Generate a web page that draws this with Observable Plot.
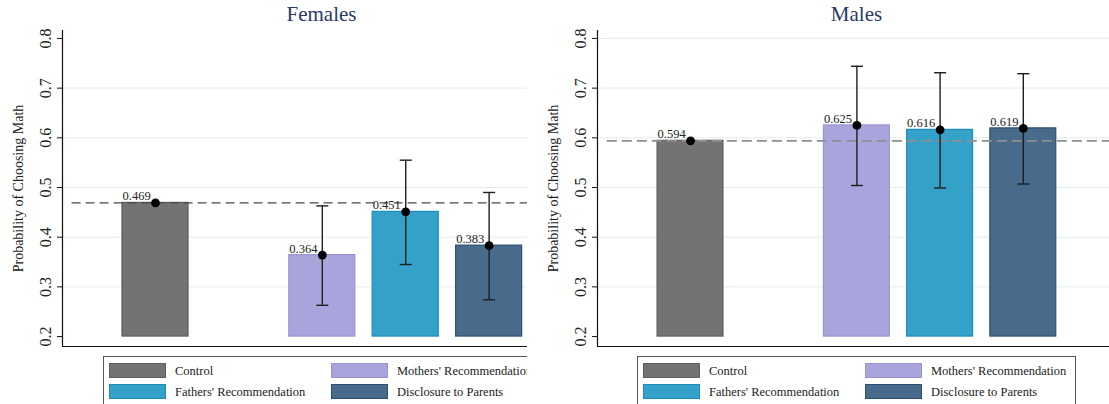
<!DOCTYPE html>
<html>
<head>
<meta charset="utf-8">
<script src="https://cdn.jsdelivr.net/npm/d3@7"></script>
<script src="https://cdn.jsdelivr.net/npm/@observablehq/plot@0.6"></script>
<style>
  body { margin:0; width:1109px; height:404px; overflow:hidden; position:relative; background:#fff; font-family:"Liberation Serif","Times New Roman",serif; }
  .panel { position:absolute; top:0; height:404px; overflow:hidden; }
  .title { position:absolute; top:4px; line-height:21px; font-size:21px; color:#2b3a67; white-space:nowrap; transform:translateX(-50%); }
  .plot { position:absolute; top:28px; left:0; }
  .legend { position:absolute; top:356px; width:439px; height:56px; border:1.3px solid #555; box-sizing:border-box; background:#fff; }
  .sw { position:absolute; width:57px; height:15px; box-sizing:border-box; border:1.3px solid; }
  .lt { position:absolute; font-size:12.5px; line-height:15px; color:#222; white-space:nowrap; }
</style>
</head>
<body>
<div id="left" class="panel" style="left:0;width:527px"></div>
<div id="right" class="panel" style="left:527px;width:582px"></div>
<script>
// ---- data ----
const categories = ["Control", "Mothers' Recommendation", "Fathers' Recommendation", "Disclosure to Parents"];
const slots = [0, 2, 3, 4];
const femaleValues = [0.469, 0.364, 0.451, 0.383];
const femaleLow    = [null, 0.263, 0.345, 0.274];
const femaleHigh   = [null, 0.463, 0.555, 0.490];
const maleValues   = [0.594, 0.625, 0.616, 0.619];
const maleLow      = [null, 0.504, 0.499, 0.507];
const maleHigh     = [null, 0.744, 0.731, 0.729];
const yTicks = [0.2, 0.3, 0.4, 0.5, 0.6, 0.7, 0.8];
const femaleGrid = [0.3, 0.4, 0.5, 0.6, 0.7];
const maleGrid = [0.3, 0.4, 0.5, 0.6, 0.7, 0.8];
const fills   = ["#737373", "#a9a4db", "#34a1c8", "#486b8c"];
const strokes = ["#5e5e5e", "#9a94d4", "#1a8dbd", "#2c4f73"];
const yLabel = "Probability of Choosing Math";
const base = 0.2;

const serif = "Liberation Serif, Times New Roman, serif";
const capSymbol = { draw(ctx) { ctx.moveTo(-6, 0); ctx.lineTo(6, 0); } };

function rows(values, low, high) {
  return categories.map((c, i) => ({cat: c, slot: slots[i], value: values[i], low: low[i], high: high[i], fill: fills[i], stroke: strokes[i]}));
}

function makePlot({data, grid, width, marginLeft, xDomain, dashStroke, dashWidth, dashArray}) {
  const halfBar = 0.396;
  const ci = data.filter(d => d.low != null);
  return Plot.plot({
    width, height: 324,
    marginLeft, marginRight: 0, marginTop: 2, marginBottom: 6,
    x: {type: "linear", domain: xDomain, axis: null},
    y: {domain: [0.18, 0.816], axis: null},
    style: {fontFamily: serif, background: "transparent", overflow: "visible"},
    marks: [
      Plot.ruleY(grid, {stroke: "#e4eded", strokeWidth: 1}),
      Plot.rectY(data, {x1: d => d.slot - halfBar, x2: d => d.slot + halfBar, y1: base, y2: "value", fill: "fill", stroke: "stroke", strokeWidth: 1.2}),
      Plot.ruleY([data[0].value], {x1: -1, x2: xDomain[1], stroke: dashStroke, strokeWidth: dashWidth, strokeDasharray: dashArray}),
      Plot.ruleX(ci, {x: "slot", y1: "low", y2: "high", stroke: "#1e1e1e", strokeWidth: 1.4}),
      Plot.dot(ci, {x: "slot", y: "low", symbol: capSymbol, stroke: "#1e1e1e", strokeWidth: 1.4, r: 4}),
      Plot.dot(ci, {x: "slot", y: "high", symbol: capSymbol, stroke: "#1e1e1e", strokeWidth: 1.4, r: 4}),
      Plot.dot(data, {x: "slot", y: "value", r: 4.4, fill: "#000", stroke: "none"}),
      Plot.text(data, {x: "slot", y: "value", text: d => d.value.toFixed(3), dx: -33, dy: -2.5, textAnchor: "start", lineAnchor: "bottom", fontSize: 12.5, fontFamily: serif, fill: "#222"}),
      Plot.ruleX([xDomain[0]], {stroke: "#111", strokeWidth: 1.2}),
      Plot.ruleY([0.18], {stroke: "#111", strokeWidth: 1.2}),
      Plot.axisY({ticks: yTicks, tickSize: 5, tickFormat: () => "", label: null, stroke: "#111"}),
      Plot.text(yTicks, {y: d => d, text: d => d.toFixed(1), frameAnchor: "left", dx: -17, rotate: -90, textAnchor: "middle", lineAnchor: "middle", fontSize: 16, fontFamily: serif, fill: "#222"}),
      Plot.text([yLabel], {text: d => d, frameAnchor: "left", dx: -44, rotate: -90, textAnchor: "middle", lineAnchor: "middle", fontSize: 14, fontFamily: serif, fill: "#222"})
    ]
  });
}

function legend(parent, left) {
  const box = document.createElement("div");
  box.className = "legend";
  box.style.left = left + "px";
  categories.forEach((c, i) => {
    const col = i % 2, row = Math.floor(i / 2);
    const sw = document.createElement("div");
    sw.className = "sw";
    sw.style.left = (5 + col * 222) + "px";
    sw.style.top = (6 + row * 21) + "px";
    sw.style.background = fills[i];
    sw.style.borderColor = strokes[i];
    const t = document.createElement("div");
    t.className = "lt";
    t.style.left = (71 + col * 222) + "px";
    t.style.top = (7 + row * 21) + "px";
    t.textContent = c;
    box.appendChild(sw); box.appendChild(t);
  });
  parent.appendChild(box);
}

function panel(id, title, titleCenter, opts, legendLeft) {
  const el = document.getElementById(id);
  const t = document.createElement("div");
  t.className = "title"; t.style.left = titleCenter + "px"; t.textContent = title;
  el.appendChild(t);
  const p = makePlot(opts);
  p.classList.add("plot");
  el.appendChild(p);
  legend(el, legendLeft);
}

panel("left", "Females", 321.5, {
  data: rows(femaleValues, femaleLow, femaleHigh), grid: femaleGrid,
  width: 527, marginLeft: 62, xDomain: [-1.115, 4.46],
  dashStroke: "#4a4a4a", dashWidth: 1.2, dashArray: "9,5"
}, 103);

panel("right", "Males", 329.5, {
  data: rows(maleValues, maleLow, maleHigh), grid: maleGrid,
  width: 582, marginLeft: 70, xDomain: [-1.118, 5.036],
  dashStroke: "#8f8f8f", dashWidth: 1.8, dashArray: "10,5"
}, 110);
</script>
</body>
</html>
